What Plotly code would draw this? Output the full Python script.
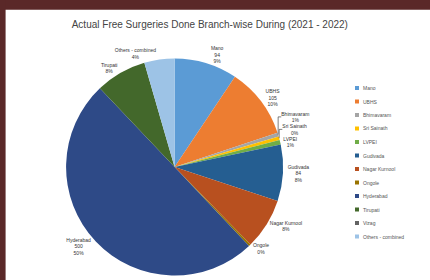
import plotly.graph_objects as go

title_text = "Actual Free Surgeries Done Branch-wise During (2021 - 2022)"
branches = ["Mano", "UBHS", "Bhimavaram", "Sri Sainath", "LVPEI", "Gudivada",
            "Nagar Kurnool", "Ongole", "Hyderabad", "Tirupati", "Vizag", "Others - combined"]
surgeries = [94, 105, 6, 5, 7, 84, 76, 3, 500, 76, 0, 45]
colors = ["#5B9BD5", "#ED7D31", "#A5A5A5", "#FFC000", "#70AD47", "#255E91",
          "#B8501F", "#997300", "#2E4A87", "#43682B", "#636363", "#9DC3E6"]
show_value = [True, True, False, False, False, True, False, False, True, False, False, False]

W, H = 430, 280

templates = []
for v, s in zip(surgeries, show_value):
    if v == 0:
        templates.append("")
    elif s:
        templates.append("%{label}<br>%{value}<br>%{percent:.0%}")
    else:
        templates.append("%{label}<br>%{percent:.0%}")

fig = go.Figure()
fig.add_trace(go.Pie(
    labels=branches,
    values=surgeries,
    sort=False,
    direction="clockwise",
    rotation=0,
    marker=dict(colors=colors, line=dict(width=0)),
    textposition="outside",
    texttemplate=templates,
    textfont=dict(size=5, color="#333333", family="Liberation Sans"),
    outsidetextfont=dict(size=5, color="#333333"),
    automargin=False,
    domain=dict(x=[0.152, 0.66], y=[0.016, 0.791]),
    showlegend=False,
))

shapes = [
    dict(type="rect", xref="paper", yref="paper", x0=0, x1=1, y0=0.965, y1=1,
         fillcolor="#5A2828", line=dict(width=0), layer="below"),
    dict(type="rect", xref="paper", yref="paper", x0=0, x1=0.013, y0=0, y1=1,
         fillcolor="#5A2828", line=dict(width=0), layer="below"),
]
annotations = []

# compact legend (Plotly's built-in legend cannot be this dense)
leg_x = 355.0
leg_y0 = 88.0
leg_step = 13.5
sq = 4.0
for i, (name, col) in enumerate(zip(branches, colors)):
    yc = leg_y0 + i * leg_step
    shapes.append(dict(type="rect", xref="paper", yref="paper",
                       x0=leg_x / W, x1=(leg_x + sq) / W,
                       y0=1 - (yc + sq / 2) / H, y1=1 - (yc - sq / 2) / H,
                       fillcolor=col, line=dict(width=0)))
    annotations.append(dict(xref="paper", yref="paper", x=(leg_x + sq + 2) / W,
                            y=1 - yc / H, xanchor="left", yanchor="middle",
                            text=name, showarrow=False,
                            font=dict(size=5, color="#555555", family="Liberation Sans")))

fig.update_layout(
    width=W, height=H,
    margin=dict(l=0, r=0, t=0, b=0),
    paper_bgcolor="white",
    plot_bgcolor="white",
    title=dict(text=title_text, x=0.488, xanchor="center", y=0.912, yanchor="middle",
               font=dict(size=10, color="#444444", family="Liberation Sans")),
    shapes=shapes,
    annotations=annotations,
)

fig.write_html("out.html",
               config={"displayModeBar": False},
               post_script="document.body.style.margin='0';document.body.style.overflow='hidden';")
